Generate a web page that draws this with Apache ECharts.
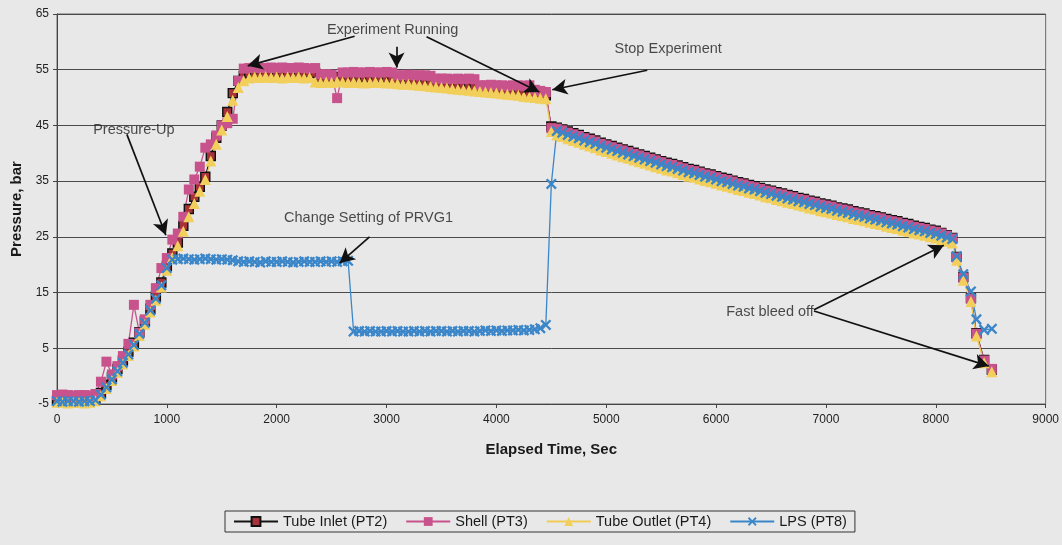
<!DOCTYPE html>
<html>
<head>
<meta charset="utf-8">
<title>Pressure history</title>
<script src="https://cdn.jsdelivr.net/npm/echarts@6/dist/echarts.min.js"></script>
<style>
  html, body { margin: 0; padding: 0; background: #e8e8e8; }
  #chart { width: 1062px; height: 545px; }
</style>
</head>
<body>
<div id="chart"></div>
<script>
// Elapsed time of each logged sample, seconds
const elapsedSec = [
  0,50,100,150,200,250,300,350,400,450,
  500,550,600,650,700,750,800,850,900,950,
  1000,1050,1100,1150,1200,1250,1300,1350,1400,1450,
  1500,1550,1600,1650,1700,1750,1800,1850,1900,1950,
  2000,2050,2100,2150,2200,2250,2300,2350,2400,2450,
  2500,2550,2600,2650,2700,2750,2800,2850,2900,2950,
  3000,3050,3100,3150,3200,3250,3300,3350,3400,3450,
  3500,3550,3600,3650,3700,3750,3800,3850,3900,3950,
  4000,4050,4100,4150,4200,4250,4300,4350,4400,4450,
  4500,4550,4600,4650,4700,4750,4800,4850,4900,4950,
  5000,5050,5100,5150,5200,5250,5300,5350,5400,5450,
  5500,5550,5600,5650,5700,5750,5800,5850,5900,5950,
  6000,6050,6100,6150,6200,6250,6300,6350,6400,6450,
  6500,6550,6600,6650,6700,6750,6800,6850,6900,6950,
  7000,7050,7100,7150,7200,7250,7300,7350,7400,7450,
  7500,7550,7600,7650,7700,7750,7800,7850,7900,7950,
  8000,8050,8100,8150,8190,8250,8320,8370,8440,8510
];

// Pressure readings, bar
const tubeInletPT2 = [
  -4.4,-4.4,-4.5,-4.4,-4.4,-4.5,-4.4,-4.0,-3.0,-1.6,
  -0.2,1.3,2.8,4.4,6.0,7.9,9.9,12.1,14.3,16.8,
  19.8,22.0,24.0,27.0,30.0,32.2,34.0,35.8,39.5,42.8,
  45.0,47.4,50.8,53.0,53.9,54.4,54.3,54.5,54.4,54.3,
  54.4,54.5,54.3,54.4,54.4,54.3,54.5,54.4,53.6,53.6,
  53.5,53.7,53.6,53.6,53.5,53.6,53.7,53.6,53.5,53.6,
  53.6,53.5,53.4,53.3,53.2,53.1,53.0,52.9,52.8,52.7,
  52.6,52.5,52.4,52.3,52.2,52.1,52.0,51.9,51.8,51.7,
  51.6,51.5,51.4,51.3,51.2,51.0,50.9,50.8,50.6,50.4,
  44.8,44.6,44.3,43.9,43.6,43.3,42.9,42.6,42.3,41.9,
  41.6,41.3,41.0,40.7,40.4,40.1,39.8,39.5,39.2,38.9,
  38.6,38.3,38.1,37.8,37.5,37.2,37.0,36.7,36.4,36.2,
  35.9,35.6,35.4,35.1,34.8,34.6,34.3,34.1,33.8,33.5,
  33.3,33.0,32.8,32.5,32.3,32.0,31.8,31.5,31.3,31.0,
  30.8,30.6,30.3,30.1,29.9,29.6,29.4,29.2,28.9,28.7,
  28.5,28.2,28.0,27.8,27.5,27.3,27.0,26.8,26.6,26.3,
  26.1,25.7,25.3,24.8,21.4,17.8,14.0,7.7,2.9,1.2
];

const shellPT3 = [
  -3.4,-3.3,-3.4,-3.5,-3.4,-3.4,-3.5,-3.2,-1.0,2.6,
  0.3,1.8,3.6,5.8,12.8,7.8,10.2,12.8,15.8,19.4,
  21.2,24.5,25.6,28.6,33.5,35.3,37.6,41.0,41.6,43.2,
  45.0,45.4,46.2,53.0,55.2,55.3,55.4,55.3,55.3,55.4,
  55.3,55.4,55.3,55.3,55.4,55.3,55.2,55.3,54.2,54.2,
  54.1,49.9,54.5,54.5,54.6,54.5,54.5,54.6,54.5,54.5,
  54.6,54.5,54.0,54.0,54.1,54.0,54.0,54.0,53.9,53.4,
  53.4,53.4,53.3,53.4,53.3,53.4,53.3,52.2,52.2,52.3,
  52.2,52.2,52.1,52.2,52.2,52.1,52.2,51.4,51.2,51.0,
  44.5,44.4,44.1,43.7,43.4,43.1,42.7,42.4,42.1,41.7,
  41.4,41.1,40.8,40.5,40.2,39.9,39.6,39.3,39.0,38.7,
  38.4,38.1,37.9,37.6,37.3,37.0,36.8,36.5,36.2,36.0,
  35.7,35.4,35.2,34.9,34.6,34.4,34.1,33.9,33.6,33.3,
  33.1,32.8,32.6,32.3,32.1,31.8,31.6,31.3,31.1,30.8,
  30.6,30.4,30.1,29.9,29.7,29.4,29.2,29.0,28.7,28.5,
  28.3,28.0,27.8,27.6,27.3,27.1,26.8,26.6,26.4,26.1,
  25.9,25.6,25.2,24.7,21.3,17.7,13.9,7.6,2.8,1.3
];

const tubeOutletPT4 = [
  -4.7,-4.7,-4.8,-4.7,-4.7,-4.8,-4.7,-4.4,-3.5,-2.2,
  -0.8,0.7,2.2,3.7,5.4,7.3,9.3,11.5,13.6,16.0,
  19.0,21.3,23.4,26.0,28.6,31.0,33.2,35.3,38.6,41.6,
  44.2,46.6,49.5,51.8,53.0,53.5,53.7,53.6,53.8,53.6,
  53.7,53.5,53.7,53.6,53.7,53.5,53.6,52.8,52.7,52.8,
  52.7,52.9,52.8,52.7,52.8,52.7,52.6,52.7,52.8,52.7,
  52.6,52.6,52.5,52.4,52.4,52.3,52.2,52.1,52.0,51.9,
  51.8,51.7,51.6,51.5,51.4,51.3,51.2,51.1,51.0,50.9,
  50.8,50.7,50.6,50.5,50.4,50.2,50.1,50.0,49.9,49.8,
  43.9,43.3,43.0,42.6,42.3,42.0,41.6,41.3,41.0,40.6,
  40.3,40.0,39.7,39.4,39.1,38.8,38.5,38.2,37.9,37.6,
  37.3,37.0,36.8,36.5,36.2,35.9,35.7,35.4,35.1,34.9,
  34.6,34.3,34.1,33.8,33.5,33.3,33.0,32.8,32.5,32.2,
  32.0,31.7,31.5,31.2,31.0,30.7,30.5,30.2,30.0,29.7,
  29.5,29.3,29.0,28.8,28.6,28.3,28.1,27.9,27.6,27.4,
  27.2,26.9,26.7,26.5,26.2,26.0,25.7,25.5,25.3,25.0,
  24.8,24.5,24.2,23.9,20.8,17.2,13.4,7.2,2.4,0.8
];

const lpsPT8 = [
  -4.5,-4.6,-4.5,-4.5,-4.6,-4.5,-4.5,-4.3,-3.3,-2.0,
  -0.6,0.9,2.4,3.9,5.6,7.6,9.6,11.8,13.9,16.3,
  19.4,20.9,21.0,21.1,21.0,20.9,21.0,21.1,21.0,20.9,
  21.0,20.9,20.8,20.6,20.5,20.6,20.5,20.4,20.6,20.5,
  20.5,20.6,20.5,20.4,20.5,20.6,20.5,20.5,20.6,20.5,
  20.6,20.5,20.6,20.7,8.0,8.1,8.0,8.1,8.0,8.0,
  8.1,8.0,8.1,8.0,8.0,8.1,8.0,8.1,8.0,8.1,
  8.1,8.0,8.1,8.0,8.1,8.1,8.0,8.1,8.2,8.1,
  8.2,8.1,8.2,8.2,8.3,8.2,8.3,8.4,8.6,9.2,
  34.5,44.0,43.7,43.3,43.0,42.7,42.3,42.0,41.7,41.3,
  41.0,40.7,40.4,40.1,39.8,39.5,39.2,38.9,38.6,38.3,
  38.0,37.7,37.5,37.2,36.9,36.6,36.4,36.1,35.8,35.6,
  35.3,35.0,34.8,34.5,34.2,34.0,33.7,33.5,33.2,32.9,
  32.7,32.4,32.2,31.9,31.7,31.4,31.2,30.9,30.7,30.4,
  30.2,30.0,29.7,29.5,29.3,29.0,28.8,28.6,28.3,28.1,
  27.9,27.6,27.4,27.2,26.9,26.7,26.4,26.2,26.0,25.7,
  25.5,25.2,24.9,24.6,21.5,18.3,15.2,10.2,8.3,8.5
];

// Axis ticks
const xTicks = [0, 1000, 2000, 3000, 4000, 5000, 6000, 7000, 8000, 9000];
const yTicks = [-5, 5, 15, 25, 35, 45, 55, 65];

// Notes written on the plot: [time, pressure, text]
const noteTexts = [
  [3055, 62.1, 'Experiment Running'],
  [5564, 58.7, 'Stop Experiment'],
  [700, 44.2, 'Pressure-Up'],
  [2836, 28.4, 'Change Setting of PRVG1'],
  [6491, 11.5, 'Fast bleed off']
];

// Arrows: [fromTime, fromPressure, toTime, toPressure]
const noteArrows = [
  [2709, 61.0, 1736, 55.7],
  [3364, 60.9, 4391, 51.0],
  [3091, 59.1, 3091, 55.4],
  [5373, 54.9, 4509, 51.4],
  [636, 43.4, 991, 25.3],
  [2845, 25.0, 2573, 20.3],
  [6891, 11.9, 8073, 23.5],
  [6891, 11.7, 8482, 1.8]
];

const FONT = 'Liberation Sans, Arial, sans-serif';

function pairs(values) {
  return elapsedSec.map((t, i) => [t, values[i]]);
}

const xMark = 'path://M0,1.5 L1.5,0 L5,3.5 L8.5,0 L10,1.5 L6.5,5 L10,8.5 L8.5,10 L5,6.5 L1.5,10 L0,8.5 L3.5,5 Z';

const chart = echarts.init(document.getElementById('chart'), null, { renderer: 'canvas' });

const option = {
  backgroundColor: '#e8e8e8',
  animation: false,
  textStyle: { fontFamily: FONT },
  grid: {
    left: 57, right: 15, top: 14, bottom: 141,
    show: true, borderColor: '#6a6a6a', borderWidth: 1, backgroundColor: 'transparent'
  },
  legend: {
    data: ['Tube Inlet (PT2)', 'Shell (PT3)', 'Tube Outlet (PT4)', 'LPS (PT8)'],
    left: 225, top: 511,
    padding: [3, 8, 3, 8],
    borderColor: '#333', borderWidth: 1,
    itemWidth: 44, itemHeight: 11, itemGap: 18,
    textStyle: { fontFamily: FONT, fontSize: 14.5, color: '#1a1a1a' }
  },
  xAxis: {
    type: 'value', min: 0, max: 9000, interval: 1000,
    name: 'Elapsed Time, Sec', nameLocation: 'middle', nameGap: 38,
    nameTextStyle: { fontFamily: FONT, fontSize: 15, fontWeight: 'bold', color: '#1a1a1a' },
    axisLine: { show: true, onZero: false, lineStyle: { color: '#444', width: 1 } },
    axisTick: { show: true, length: 4, lineStyle: { color: '#444' } },
    axisLabel: { fontFamily: FONT, fontSize: 12, color: '#222', margin: 10,
      formatter: v => xTicks.includes(v) ? String(v) : '' },
    splitLine: { show: false }
  },
  yAxis: {
    type: 'value', min: -5, max: 65, interval: 10,
    name: 'Pressure, bar', nameLocation: 'middle', nameGap: 33, nameRotate: 90,
    nameTextStyle: { fontFamily: FONT, fontSize: 15, fontWeight: 'bold', color: '#1a1a1a' },
    axisLine: { show: true, onZero: false, lineStyle: { color: '#444', width: 1 } },
    axisTick: { show: true, length: 4, lineStyle: { color: '#444' } },
    axisLabel: { fontFamily: FONT, fontSize: 12, color: '#222', margin: 8,
      formatter: v => yTicks.includes(v) ? String(v) : '' },
    splitLine: { show: true, lineStyle: { color: '#4a4a4a', width: 1 } }
  },
  series: [
    {
      name: 'Tube Inlet (PT2)', type: 'line', data: pairs(tubeInletPT2),
      symbol: 'rect', symbolSize: 9,
      lineStyle: { color: '#151515', width: 1.3 },
      itemStyle: { color: '#a8323a', borderColor: '#111', borderWidth: 1.4 }
    },
    {
      name: 'Shell (PT3)', type: 'line', data: pairs(shellPT3),
      symbol: 'rect', symbolSize: 10,
      lineStyle: { color: '#c8538c', width: 1.3 },
      itemStyle: { color: '#c8538c', borderWidth: 0 }
    },
    {
      name: 'Tube Outlet (PT4)', type: 'line', data: pairs(tubeOutletPT4),
      symbol: 'triangle', symbolSize: 11,
      lineStyle: { color: '#f0cb55', width: 1.3 },
      itemStyle: { color: '#f2cf5a', borderWidth: 0 }
    },
    {
      name: 'LPS (PT8)', type: 'line', data: pairs(lpsPT8),
      symbol: xMark, symbolSize: 11,
      lineStyle: { color: '#3b86c9', width: 1.3 },
      itemStyle: { color: '#3b86c9', borderWidth: 0 }
    },
    {
      name: 'notes', type: 'scatter', silent: true, z: 10,
      data: noteTexts,
      symbolSize: 1,
      itemStyle: { color: 'rgba(0,0,0,0)' },
      label: {
        show: true, position: 'inside', formatter: p => p.data[2],
        fontFamily: FONT, fontSize: 14.5, color: '#1e1e1e'
      },
      markLine: {
        silent: true, animation: false,
        symbol: ['none', 'arrow'], symbolSize: [12, 15],
        lineStyle: { color: '#111', width: 1.7, type: 'solid' },
        label: { show: false },
        emphasis: { disabled: true },
        data: noteArrows.map(a => [{ coord: [a[0], a[1]] }, { coord: [a[2], a[3]] }])
      }
    }
  ]
};

chart.setOption(option);
</script>
</body>
</html>
